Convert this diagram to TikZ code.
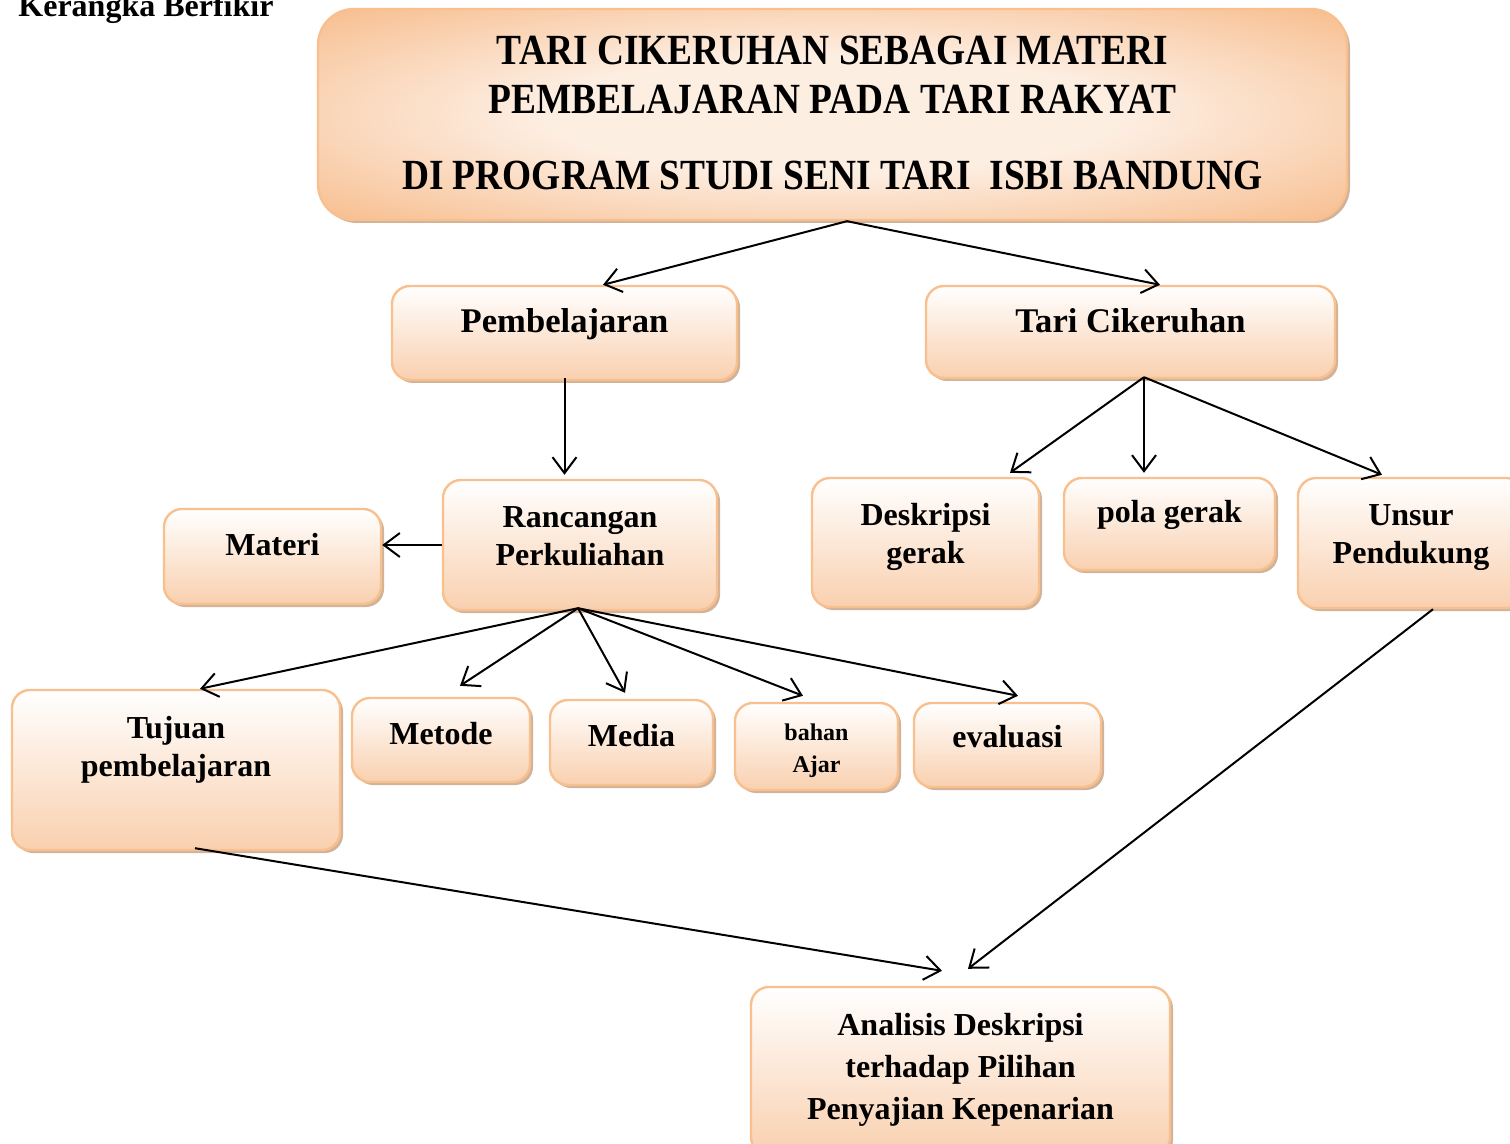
\documentclass[tikz,border=0pt]{standalone}
\usepackage{fontspec}
\setmainfont{Liberation Serif}
\newfontfamily\judulfont[FakeStretch=0.87]{Liberation Serif Bold}
\usetikzlibrary{arrows.meta,shadows}

\definecolor{garis}{RGB}{249,192,143}
\definecolor{persik}{RGB}{249,208,175}
\definecolor{persikmuda}{RGB}{253,238,226}
\definecolor{jingga}{RGB}{247,188,140}
\definecolor{bayang}{RGB}{196,160,128}

\pgfdeclareradialshading{judulgradasi}{\pgfpoint{0bp}{0bp}}{color(0bp)=(persikmuda); color(14bp)=(persikmuda); color(36bp)=(jingga); color(50bp)=(jingga)}

\newcommand{\baris}[1]{\begin{tabular}[t]{@{}c@{}}#1\end{tabular}}

\tikzset{
  kotak/.style={draw=garis, line width=1.2pt, rounded corners=9pt,
    top color=white, bottom color=persik, inner sep=0pt, anchor=base,
    font=\bfseries\fontsize{16}{19}\selectfont,
    drop shadow={shadow xshift=1.5pt, shadow yshift=-1.5pt, fill=bayang, opacity=0.8}},
  panah/.style={-{Straight Barb[length=8pt,width=12pt]}, line width=1pt}
}

\begin{document}
\begin{tikzpicture}[x=0.5pt,y=-0.5pt]
\useasboundingbox (0,0) rectangle (1510,1144);

% judul
\node (atas) [anchor=base west, inner sep=0pt, font=\bfseries\fontsize{16}{19}\selectfont] at (18,17) {Kerangka Berfikir};
\node (judul) [kotak, rounded corners=18pt, shading=judulgradasi,
    minimum width=514.5pt, text height=28pt, text depth=77.5pt,
    font=\judulfont\fontsize{21.5}{24.5}\selectfont] at (832.5,65)
    {\baris{TARI CIKERUHAN SEBAGAI MATERI\\PEMBELAJARAN PADA TARI RAKYAT\\[13.5pt]DI PROGRAM STUDI SENI TARI \ ISBI BANDUNG}};

% baris kedua
\node (pemb) [kotak, minimum width=172.5pt, text height=23.5pt, text depth=23.5pt, font=\bfseries\fontsize{17.3}{19}\selectfont] at (564.5,333) {Pembelajaran};
\node (tari) [kotak, minimum width=204.5pt, text height=23.5pt, text depth=22.5pt, font=\bfseries\fontsize{17.3}{19}\selectfont] at (1130.5,333) {Tari Cikeruhan};

% baris ketiga
\node (ranc) [kotak, minimum width=137pt, text height=23.5pt, text depth=41.5pt] at (580,527) {\baris{Rancangan\\Perkuliahan}};
\node (materi) [kotak, minimum width=108.5pt, text height=23pt, text depth=24.5pt] at (272.5,555) {Materi};
\node (desk) [kotak, minimum width=113.5pt, text height=23.5pt, text depth=41pt] at (925.5,525) {\baris{Deskripsi\\gerak}};
\node (pola) [kotak, minimum width=105.5pt, text height=22.5pt, text depth=23.5pt] at (1169.5,523) {pola gerak};
\node (unsur) [kotak, minimum width=113pt, text height=23.5pt, text depth=41.5pt] at (1411,525) {\baris{Unsur\\Pendukung}};

% baris keempat
\node (tujuan) [kotak, minimum width=164pt, text height=24pt, text depth=56pt] at (176,738) {\baris{Tujuan\\pembelajaran}};
\node (metode) [kotak, minimum width=89pt, text height=23pt, text depth=19pt] at (441,744) {Metode};
\node (media) [kotak, minimum width=81.5pt, text height=23pt, text depth=19.5pt] at (631.5,746) {Media};
\node (bahan) [kotak, minimum width=81.5pt, text height=18.5pt, text depth=25pt, font=\bfseries\fontsize{12}{16}\selectfont] at (816.5,740) {\baris{bahan\\Ajar}};
\node (evaluasi) [kotak, minimum width=93.5pt, text height=22pt, text depth=20pt] at (1007.5,747) {evaluasi};

% hasil
\node (analisis) [kotak, minimum width=209.5pt, text height=24pt, text depth=60pt, font=\bfseries\fontsize{16}{21}\selectfont] at (960.5,1035) {\baris{Analisis Deskripsi\\terhadap Pilihan\\Penyajian Kepenarian}};

% panah
\draw[panah] ([xshift=7.25pt]judul.south) -- ([xshift=19.25pt]pemb.north);
\draw[panah] ([xshift=7.25pt]judul.south) -- ([xshift=14.75pt]tari.north);
\draw[panah] ([yshift=1.5pt]pemb.south) -- ([yshift=2pt]pemb.south |- ranc.north);
\draw[panah] ([xshift=6.75pt,yshift=1pt]tari.south) -- ([xshift=42.25pt,yshift=2pt]desk.north);
\draw[panah] ([xshift=6.75pt,yshift=1pt]tari.south) -- ([xshift=-12.75pt,yshift=2pt]pola.north);
\draw[panah] ([xshift=6.75pt,yshift=1pt]tari.south) -- ([xshift=-14.5pt,yshift=1pt]unsur.north);
\draw[panah] (ranc.west) -- (ranc.west -| materi.east);
\draw[panah] ([xshift=-1pt,yshift=1.5pt]ranc.south) -- ([xshift=12pt]tujuan.north);
\draw[panah] ([xshift=-1pt,yshift=1.5pt]ranc.south) -- ([xshift=9.5pt,yshift=5.5pt]metode.north);
\draw[panah] ([xshift=-1pt,yshift=1.5pt]ranc.south) -- ([xshift=-3.25pt,yshift=3pt]media.north);
\draw[panah] ([xshift=-1pt,yshift=1.5pt]ranc.south) -- ([xshift=-6.75pt,yshift=3pt]bahan.north);
\draw[panah] ([xshift=-1pt,yshift=1.5pt]ranc.south) -- ([xshift=5.25pt,yshift=3pt]evaluasi.north);
\draw[panah] ([xshift=9.5pt,yshift=1.5pt]tujuan.south) -- ([xshift=-9.25pt,yshift=7.5pt]analisis.north);
\draw[panah] ([xshift=11pt]unsur.south) -- ([xshift=3.75pt,yshift=8.5pt]analisis.north);

\end{tikzpicture}
\end{document}
